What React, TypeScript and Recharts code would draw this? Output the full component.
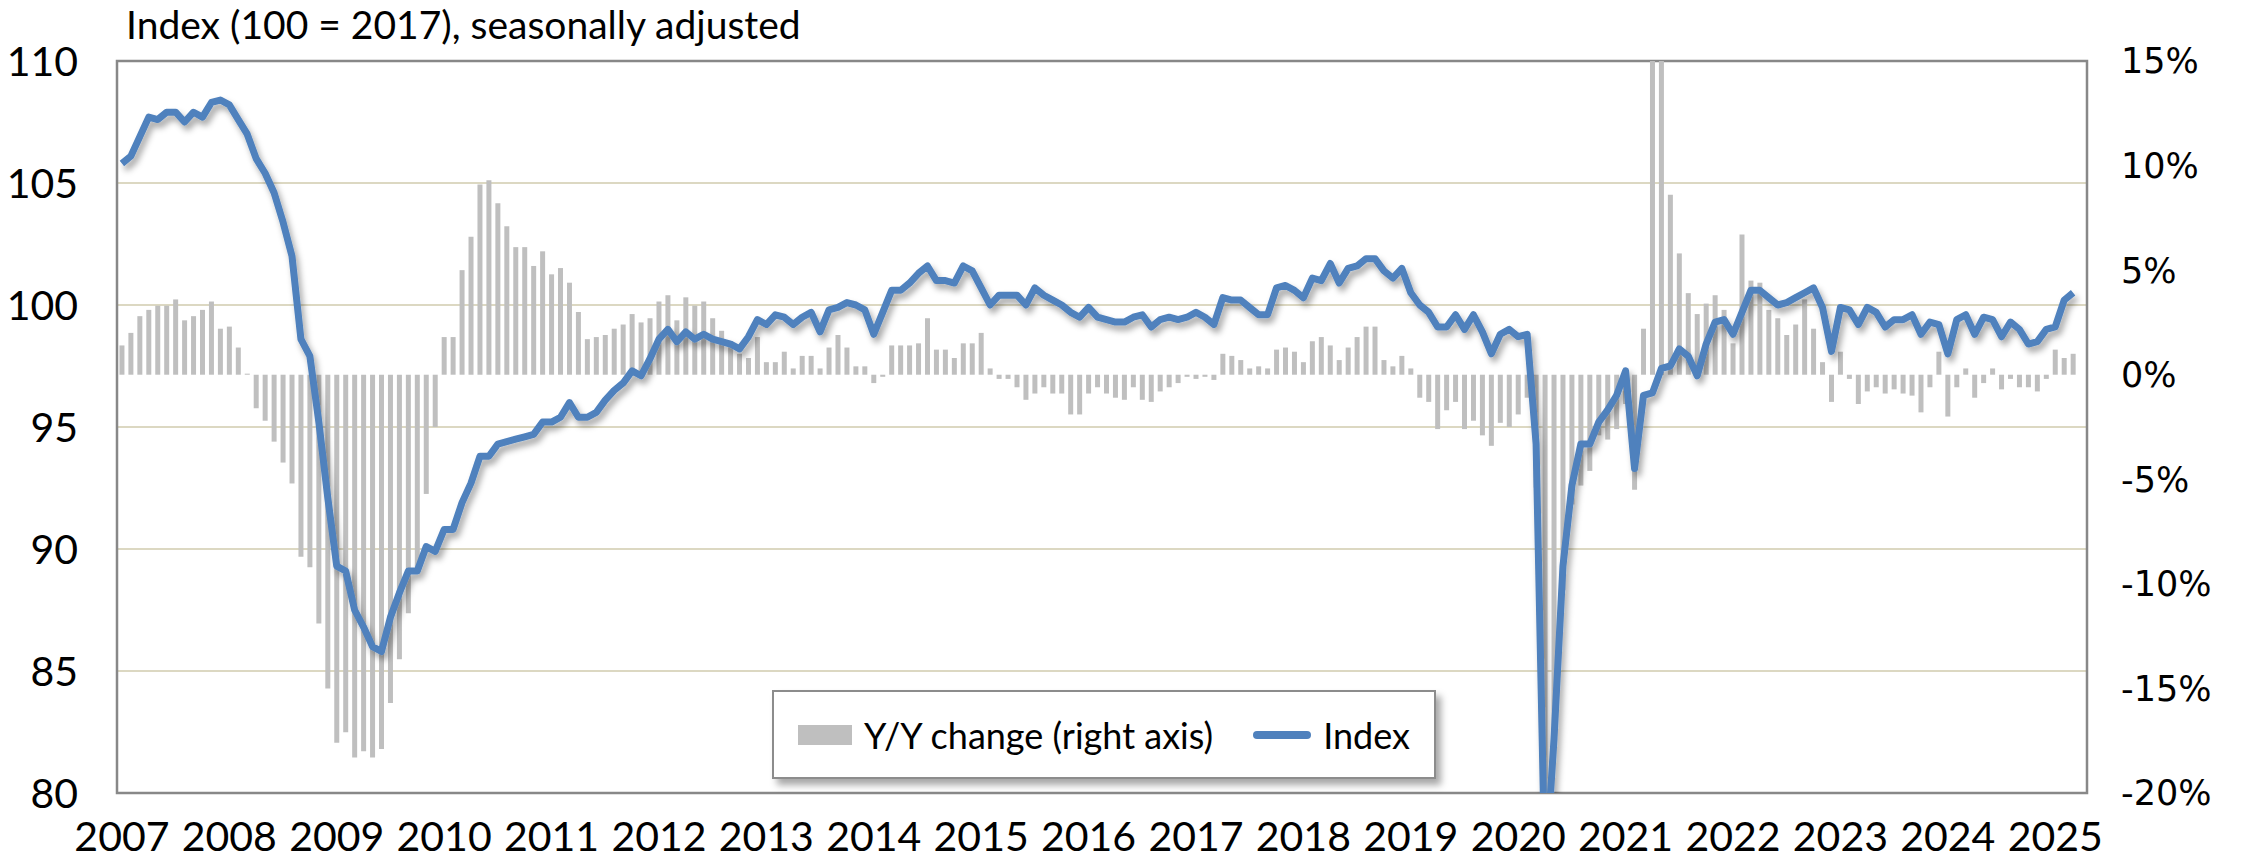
import {
  ComposedChart,
  Bar,
  Line,
  XAxis,
  YAxis,
  CartesianGrid,
  ReferenceArea,
  Legend,
} from "recharts";

const START_YEAR = 2007;

// monthly index, Jan 2007 .. Mar 2025 (100 = 2017), one row per year
const INDEX_VALUES = [
  105.8, 106.1, 106.9, 107.7, 107.6, 107.9, 107.9, 107.5, 107.9, 107.7, 108.3, 108.4, // 2007
  108.2, 107.6, 107.0, 106.0, 105.4, 104.6, 103.4, 102.0, 98.6, 97.9, 95.2, 92.1, // 2008
  89.3, 89.1, 87.5, 86.8, 86.0, 85.8, 87.2, 88.2, 89.1, 89.1, 90.1, 89.9, // 2009
  90.8, 90.8, 91.9, 92.7, 93.8, 93.8, 94.3, 94.4, 94.5, 94.6, 94.7, 95.2, // 2010
  95.2, 95.4, 96.0, 95.4, 95.4, 95.6, 96.1, 96.5, 96.8, 97.3, 97.1, 97.8, // 2011
  98.6, 99.0, 98.5, 98.9, 98.6, 98.8, 98.6, 98.5, 98.4, 98.2, 98.7, 99.4, // 2012
  99.2, 99.6, 99.5, 99.2, 99.5, 99.7, 98.9, 99.8, 99.9, 100.1, 100.0, 99.8, // 2013
  98.8, 99.7, 100.6, 100.6, 100.9, 101.3, 101.6, 101.0, 101.0, 100.9, 101.6, 101.4, // 2014
  100.7, 100.0, 100.4, 100.4, 100.4, 100.0, 100.7, 100.4, 100.2, 100.0, 99.7, 99.5, // 2015
  99.9, 99.5, 99.4, 99.3, 99.3, 99.5, 99.6, 99.1, 99.4, 99.5, 99.4, 99.5, // 2016
  99.7, 99.5, 99.2, 100.3, 100.2, 100.2, 99.9, 99.6, 99.6, 100.7, 100.8, 100.6, // 2017
  100.3, 101.1, 101.0, 101.7, 100.9, 101.5, 101.6, 101.9, 101.9, 101.4, 101.1, 101.5, // 2018
  100.5, 100.0, 99.7, 99.1, 99.1, 99.6, 99.0, 99.6, 98.9, 98.0, 98.8, 99.0, // 2019
  98.7, 98.8, 94.3, 76.5, 82.2, 89.3, 92.6, 94.3, 94.3, 95.2, 95.7, 96.3, // 2020
  97.3, 93.3, 96.3, 96.4, 97.4, 97.5, 98.2, 97.9, 97.1, 98.4, 99.3, 99.4, // 2021
  98.8, 99.7, 100.6, 100.6, 100.3, 100.0, 100.1, 100.3, 100.5, 100.7, 99.9, 98.1, // 2022
  99.9, 99.8, 99.2, 99.9, 99.7, 99.1, 99.4, 99.4, 99.6, 98.8, 99.3, 99.2, // 2023
  98.0, 99.4, 99.6, 98.8, 99.5, 99.4, 98.7, 99.3, 99.0, 98.4, 98.5, 99.0, // 2024
  99.1, 100.2, 100.5, // 2025
];

// year-over-year change in percent, same months
const YOY_VALUES = [
  1.4, 2.0, 2.8, 3.1, 3.3, 3.3, 3.6, 2.6, 2.8, 3.1, 3.5, 2.2, // 2007
  2.3, 1.3, 0.05, -1.6, -2.2, -3.2, -4.2, -5.2, -8.7, -9.2, -11.9, -15.0, // 2008
  -17.6, -17.1, -18.3, -18.0, -18.3, -17.9, -15.7, -13.6, -11.4, -9.2, -5.7, -2.5, // 2009
  1.8, 1.8, 5.0, 6.6, 9.1, 9.3, 8.2, 7.1, 6.1, 6.1, 5.2, 5.9, // 2010
  4.8, 5.1, 4.4, 3.0, 1.7, 1.8, 1.9, 2.2, 2.4, 2.9, 2.5, 2.7, // 2011
  3.5, 3.8, 2.6, 3.7, 3.3, 3.5, 2.7, 2.1, 1.6, 1.0, 0.8, 1.8, // 2012
  0.6, 0.6, 1.1, 0.3, 0.9, 0.9, 0.3, 1.3, 1.9, 1.3, 0.4, 0.4, // 2013
  -0.4, -0.1, 1.4, 1.4, 1.4, 1.5, 2.7, 1.2, 1.2, 0.8, 1.5, 1.5, // 2014
  2.0, 0.3, -0.2, -0.2, -0.6, -1.2, -0.9, -0.6, -0.9, -0.9, -1.9, -1.9, // 2015
  -0.9, -0.6, -0.9, -1.1, -1.2, -0.6, -1.2, -1.3, -0.8, -0.6, -0.4, -0.1, // 2016
  -0.2, -0.1, -0.25, 1.0, 0.9, 0.7, 0.3, 0.4, 0.3, 1.2, 1.3, 1.1, // 2017
  0.6, 1.6, 1.8, 1.4, 0.7, 1.3, 1.8, 2.3, 2.3, 0.7, 0.4, 0.9, // 2018
  0.3, -1.1, -1.3, -2.6, -1.7, -1.3, -2.6, -2.2, -2.9, -3.4, -2.3, -2.5, // 2019
  -1.9, -1.1, -5.4, -22.8, -17.0, -10.3, -6.2, -5.3, -4.6, -2.9, -3.1, -2.6, // 2020
  -1.4, -5.5, 2.2, 26.0, 18.5, 8.6, 5.8, 3.9, 2.9, 3.4, 3.8, 3.1, // 2021
  1.5, 6.7, 4.5, 4.4, 3.1, 2.7, 1.9, 2.4, 3.6, 2.2, 0.6, -1.3, // 2022
  1.1, -0.2, -1.4, -0.8, -0.6, -0.9, -0.7, -0.9, -1.0, -1.8, -0.6, 1.1, // 2023
  -2.0, -0.6, 0.3, -1.1, -0.4, 0.3, -0.7, -0.2, -0.6, -0.6, -0.8, -0.2, // 2024
  1.2, 0.8, 1.0, // 2025
];

const YEAR_LABELS = [
  2007, 2008, 2009, 2010, 2011, 2012, 2013, 2014, 2015, 2016,
  2017, 2018, 2019, 2020, 2021, 2022, 2023, 2024, 2025,
];
const LEFT_TICKS = [80, 85, 90, 95, 100, 105, 110];
const RIGHT_TICKS = [-20, -15, -10, -5, 0, 5, 10, 15];
const GRID_LINES = [85, 90, 95, 100, 105];

const BLUE = "#4f81bd";
const GREY = "#bfbfbf";
const LABEL_FONT = "Lato, 'Open Sans', sans-serif";

const rows = INDEX_VALUES.map((idx, m) => ({ m, idx, yoy: YOY_VALUES[m] }));
const yearTicks = YEAR_LABELS.map((y) => (y - START_YEAR) * 12);
const X_DOMAIN: [number, number] = [-0.55, 219.55];

function LegendBox({ payload }: { payload?: any[] }) {
  // bars first, like the original legend
  const items = [...(payload ?? [])].sort(
    (a, b) => Number(a.type === "line") - Number(b.type === "line")
  );
  return (
    <div
      style={{
        boxSizing: "border-box",
        width: "100%",
        height: "100%",
        border: "2px solid #8c8c8c",
        background: "#fff",
        boxShadow: "5px 6px 7px rgba(0,0,0,0.35)",
        display: "flex",
        alignItems: "center",
        justifyContent: "center",
        fontFamily: LABEL_FONT,
        fontSize: 36,
        color: "#000",
      }}
    >
      {items.map((p, i) => (
        <span key={i} style={{ display: "flex", alignItems: "center", marginLeft: i ? 40 : 0 }}>
          {p.type === "line" ? (
            <span style={{ width: 58, height: 8, borderRadius: 4, background: BLUE, marginRight: 12 }} />
          ) : (
            <span style={{ width: 54, height: 20, background: GREY, marginRight: 12 }} />
          )}
          {p.value}
        </span>
      ))}
    </div>
  );
}

export default function App() {
  return (
    <div style={{ position: "absolute", left: 0, top: 0, width: 2241, height: 866, background: "#fff" }}>
      <div
        style={{
          position: "absolute",
          left: 126,
          top: 2,
          fontFamily: LABEL_FONT,
          fontSize: 39,
          lineHeight: "44px",
          color: "#000",
          whiteSpace: "nowrap",
          zIndex: 2,
        }}
      >
        Index (100 = 2017), seasonally adjusted
      </div>
      <ComposedChart
        width={2241}
        height={866}
        data={rows}
        margin={{ top: 61, right: 0, bottom: 0, left: 0 }}
      >
        <defs>
          <filter id="lineShadow" x="-5%" y="-20%" width="110%" height="140%">
            <feDropShadow dx="3" dy="5" stdDeviation="3" floodColor="#000" floodOpacity="0.35" />
          </filter>
        </defs>
        <CartesianGrid
          yAxisId="idx"
          vertical={false}
          horizontalValues={GRID_LINES}
          stroke="#dcd8c2"
          strokeWidth={2}
        />
        <XAxis
          dataKey="m"
          type="number"
          domain={X_DOMAIN}
          ticks={yearTicks}
          interval={0}
          tickFormatter={(v: number) => String(START_YEAR + v / 12)}
          axisLine={false}
          tickLine={false}
          tickSize={0}
          tickMargin={29}
          height={73}
          tick={{ fontFamily: LABEL_FONT, fontSize: 41, fill: "#000" }}
        />
        <YAxis
          yAxisId="idx"
          orientation="left"
          domain={[80, 110]}
          ticks={LEFT_TICKS}
          allowDataOverflow
          width={117}
          axisLine={false}
          tickLine={false}
          tickSize={0}
          tickMargin={39}
          tick={{ fontFamily: LABEL_FONT, fontSize: 41, fill: "#000" }}
        />
        <YAxis
          yAxisId="yoy"
          orientation="right"
          domain={[-20, 15]}
          ticks={RIGHT_TICKS}
          allowDataOverflow
          width={154}
          axisLine={false}
          tickLine={false}
          tickSize={0}
          tickMargin={34}
          tickFormatter={(v: number) => `${v}%`}
          tick={{ fontFamily: "'DejaVu Sans', sans-serif", fontSize: 35, fill: "#000" }}
        />
        <Bar
          yAxisId="yoy"
          dataKey="yoy"
          name="Y/Y change (right axis)"
          fill={GREY}
          barSize={5}
          isAnimationActive={false}
        />
        <Line
          yAxisId="idx"
          dataKey="idx"
          name="Index"
          type="linear"
          stroke={BLUE}
          strokeWidth={7}
          strokeLinejoin="round"
          dot={false}
          activeDot={false}
          filter="url(#lineShadow)"
          isAnimationActive={false}
        />
        <ReferenceArea
          yAxisId="idx"
          x1={X_DOMAIN[0]}
          x2={X_DOMAIN[1]}
          y1={80}
          y2={110}
          fill="none"
          stroke="#888888"
          strokeWidth={2.5}
        />
        <Legend
          layout="horizontal"
          verticalAlign="middle"
          align="center"
          content={(props: any) => <LegendBox payload={props.payload} />}
          wrapperStyle={{ left: 772, top: 690, width: 664, height: 89 }}
        />
      </ComposedChart>
    </div>
  );
}
